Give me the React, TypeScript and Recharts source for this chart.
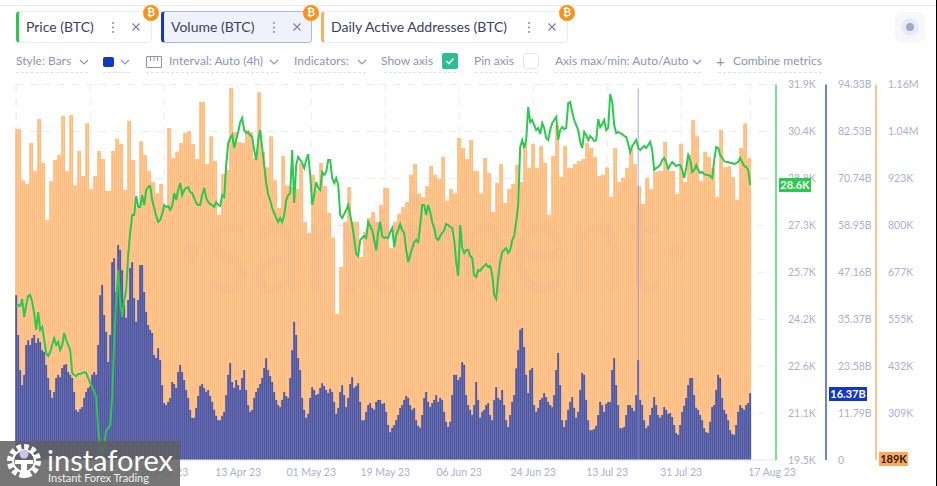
import React from "react";
import {
  ComposedChart,
  Bar,
  Line,
  XAxis,
  YAxis,
  CartesianGrid,
  ReferenceLine,
} from "recharts";

// BTC price, one reading per slot
const priceValues = [
  24552, 24618, 24585, 24816, 24222, 24618, 24915, 24948, 24717, 24354, 23793, 24387, 23793, 23892, 23462, 23033,
  22934, 23066, 23297, 23528, 23297, 23396, 23132, 23297, 23693, 23462, 23297, 23132, 22372, 22306, 22273, 22339,
  22339, 22372, 22405, 22372, 22207, 22042, 21910, 21745, 21580, 20490, 19929, 19764, 19995, 20490, 20556, 20655,
  21580, 23462, 24783, 25774, 24684, 24222, 24783, 25113, 26269, 27028, 27590, 27590, 28217, 27854, 27854, 28250,
  27920, 28415, 28514, 28547, 28085, 27821, 27557, 27359, 27425, 27623, 27920, 27854, 27887, 27755, 27887, 28316,
  28085, 28415, 28646, 28250, 28415, 28481, 28514, 28349, 28316, 28151, 27986, 27920, 27920, 28250, 28481, 28151,
  28019, 27953, 27920, 27854, 28019, 27920, 27887, 28250, 28184, 29241, 29967, 30132, 30231, 29802, 30066, 30330,
  30660, 30793, 30396, 30297, 30330, 30231, 30165, 29736, 29405, 30066, 30396, 29802, 29241, 28646, 28250, 28085,
  27821, 27656, 27491, 27359, 27491, 27359, 27590, 28085, 28250, 28316, 29736, 27986, 29241, 29505, 29405, 29307,
  29142, 29405, 29604, 28910, 27920, 28250, 28679, 28481, 28415, 29009, 28910, 29009, 29405, 29405, 28811, 28646,
  28811, 28580, 27590, 27491, 27623, 27755, 27920, 27590, 27260, 26830, 26302, 26236, 26764, 26830, 26896, 26830,
  27359, 27227, 27094, 26764, 26434, 27028, 27359, 26896, 26830, 26863, 26830, 27028, 27161, 26533, 26929, 27094,
  27293, 27094, 26995, 26434, 26038, 26269, 26500, 26698, 26764, 26698, 27260, 27920, 27920, 27590, 27920, 27689,
  27359, 27161, 26830, 26764, 26896, 26995, 27094, 27293, 27260, 27193, 27161, 26764, 26038, 25575, 27260, 26500,
  26335, 26434, 26434, 26236, 26170, 25609, 25542, 25774, 25741, 25840, 25906, 25972, 25873, 25906, 25609, 24948,
  24816, 25509, 26038, 26368, 26434, 26500, 26335, 26434, 26764, 26896, 27359, 27920, 29835, 30066, 29802, 30066,
  31156, 30660, 30727, 30562, 30396, 30462, 30264, 30627, 30462, 30132, 30066, 30396, 30627, 30727, 30826, 30066,
  30396, 30495, 30429, 30462, 31288, 31321, 30991, 30727, 30562, 30396, 30000, 29802, 30330, 30231, 30066, 30198,
  30132, 30033, 30066, 30760, 30495, 30594, 30727, 30396, 30462, 31585, 31321, 30562, 30297, 30330, 30297, 30264,
  30198, 30165, 29934, 29670, 29868, 29967, 30066, 29802, 29736, 29802, 29868, 29802, 29901, 30000, 29736, 29075,
  29142, 29175, 29241, 29405, 29472, 29340, 29109, 29241, 29340, 29274, 29208, 29241, 29241, 29075, 28811, 29142,
  29571, 29405, 29009, 29075, 29241, 29075, 28976, 29009, 28943, 28910, 28910, 28877, 28811, 29405, 29835, 29802,
  29571, 29472, 29373, 29340, 29340, 29307, 29307, 29274, 29307, 29340, 29472, 29340, 29208, 29175, 29075, 28580,
];

// volume in billions, one reading per slot
const volumeValues = [
  41.4, 31.4, 22.6, 18.8, 21.4, 28.9, 30.1, 28.9, 30.6, 31.4, 29.4, 30.6, 29.6, 27.6, 27.1, 23.9,
  20.6, 17.6, 15.6, 17.1, 20.6, 21.4, 20.8, 23.1, 23.9, 24.1, 22.1, 21.4, 20.6, 17.1, 12.6, 12.1,
  12.8, 13.3, 15.6, 17.1, 18.1, 18.6, 21.4, 22.1, 21.4, 28.9, 41.4, 44, 36.4, 32.2, 24.6, 31.4,
  49.7, 50.7, 42.2, 54, 52.8, 47.7, 38.9, 35.7, 40.2, 48.2, 49.7, 40.7, 34.7, 40.2, 49, 49,
  42.2, 37.2, 33.9, 32.7, 31.9, 26.4, 25.6, 28.1, 25.1, 18.8, 14.3, 13.8, 14.6, 15.6, 19.6, 19.1,
  18.1, 22.1, 23.9, 22.1, 20.1, 17.6, 15.6, 12.6, 10.6, 10.6, 13.1, 16.1, 18.6, 19.1, 18.1, 17.1,
  17.6, 16.1, 14.6, 12.6, 11.1, 10, 10, 11.1, 12.1, 16.3, 21.4, 24.4, 19.6, 18.1, 20.1, 18.8,
  17.6, 20.6, 22.6, 17.6, 13.8, 12.1, 12.6, 15.6, 17.1, 18.1, 19.1, 20.6, 23.1, 25.6, 22.6, 21.1,
  19.6, 17.1, 15.1, 13.8, 13.3, 15.1, 17.1, 16.1, 15.6, 20.6, 27.6, 34.7, 31.4, 25.6, 22.6, 15.6,
  12.6, 10.6, 11.6, 15.6, 18.3, 17.6, 16.3, 16.6, 18.1, 19.3, 18.6, 17.6, 16.8, 17.9, 17.1, 14.6,
  11.6, 13.1, 17.1, 18.8, 16.3, 13.3, 15.6, 19.1, 20.8, 18.1, 18.6, 19.3, 14.6, 10, 10, 12.1,
  13.8, 14.3, 13.1, 12.6, 14.6, 15.1, 15.1, 14.1, 14.3, 12.1, 8.8, 7, 8.1, 8.8, 10, 11.3,
  13.1, 13.8, 15.1, 16.1, 15.6, 13.8, 12.6, 13.1, 10, 8.6, 8.1, 11.3, 15.6, 17.1, 14.6, 13.3,
  14.3, 15.1, 16.3, 14.6, 15.6, 15.1, 12.1, 9.6, 8.3, 9.6, 16.3, 21.4, 21.4, 20.1, 20.8, 24.6,
  23.9, 16.3, 13.8, 12.6, 11.3, 13.8, 19.6, 15.1, 10.6, 12.1, 12.6, 13.8, 14.3, 11.3, 10, 15.1,
  18.3, 15.6, 15.1, 17.6, 13.8, 10, 8.3, 11.3, 14.6, 16.3, 23, 27.6, 32.7, 33.2, 28.4, 21.4,
  16.8, 22.6, 23.1, 13.8, 12.1, 13.1, 15.1, 15.6, 16.8, 15.8, 14.6, 13.8, 13.3, 16.3, 22.6, 26.9,
  18.8, 10, 8.3, 10, 12.6, 14.6, 15.8, 13.1, 10.6, 12.1, 17.6, 21.9, 21.4, 15.1, 10, 7.5,
  7.5, 7.8, 8.6, 11.3, 14.6, 13.8, 12.1, 14.1, 14.6, 14.6, 22.6, 25.6, 18.8, 13.8, 8, 8,
  8.3, 11.3, 13.8, 13.8, 13.1, 12.3, 16.3, 25.1, 15.1, 13.8, 10, 8, 8.6, 11.3, 13.1, 15.8,
  13.8, 11.3, 10.6, 11.3, 13.3, 12.6, 11.6, 11.8, 10.8, 8.8, 6.8, 6.3, 8.8, 12.1, 13.6, 15.6,
  18.8, 20.6, 20.6, 16.3, 13.1, 12.6, 11.3, 10, 8, 7, 6.8, 9.6, 13.3, 13.8, 17.6, 21.4,
  20.6, 15.6, 12.6, 11.6, 10, 7.5, 6.5, 6.3, 8.8, 12.1, 13.8, 13.1, 12.6, 13.8, 14.3, 16.8,
];

// daily active addresses in thousands, one reading per day
const daaValues = [
  1052, 918, 908, 1015, 942, 1078, 963, 814, 916, 971, 984, 1086, 942, 1088, 905, 994, 929, 1067, 895, 929,
  994, 973, 890, 994, 1026, 1013, 892, 1073, 971, 845, 1020, 984, 942, 913, 884, 908, 845, 1054, 976, 992,
  1015, 1041, 1046, 1013, 973, 1122, 960, 1033, 968, 827, 934, 945, 1159, 1044, 1018, 1015, 1049, 1044, 976, 1148,
  992, 952, 1033, 918, 845, 981, 905, 900, 895, 963, 809, 780, 932, 892, 963, 903, 832, 769, 568, 691,
  809, 900, 809, 809, 717, 783, 819, 835, 809, 853, 898, 741, 809, 830, 848, 861, 932, 960, 884, 874,
  903, 955, 932, 921, 979, 864, 895, 884, 1028, 1002, 973, 1023, 942, 884, 976, 937, 835, 911, 960, 858,
  895, 908, 958, 913, 1015, 950, 1013, 950, 1007, 963, 827, 981, 1062, 926, 1007, 950, 960, 968, 973, 1015,
  1002, 979, 929, 932, 952, 874, 1002, 913, 924, 950, 1002, 960, 903, 856, 924, 895, 939, 942, 1018, 942,
  942, 882, 1013, 913, 986, 1075, 1033, 916, 992, 979, 950, 874, 1049, 952, 955, 926, 866, 1002, 1067, 976,
];

const xTickSlots = [0, 37, 74, 111, 147.5, 184.5, 221.5, 258.5, 295.5, 332.5, 367];
const xTickLabels = ["", "08 Mar 23", "26 Mar 23", "13 Apr 23", "01 May 23", "19 May 23", "06 Jun 23", "24 Jun 23", "13 Jul 23", "31 Jul 23", "17 Aug 23"];
const priceTicks = [19500, 21050, 22600, 24150, 25700, 27250, 28800, 30350, 31900];
const volumeTicks = [0, 11.79, 23.58, 35.37, 47.16, 58.95, 70.74, 82.53, 94.33];
const daaTicks = [309, 432, 555, 677, 800, 923, 1045, 1168];
const cursorSlot = 311;

const rows = volumeValues.map((volume, i) => ({
  slot: i,
  volume,
  price: priceValues[i],
  daa: daaValues[Math.min(Math.floor((i * daaValues.length) / volumeValues.length), daaValues.length - 1)],
}));

const FONT = "Lato, sans-serif";
const MUTED = "#8C95B4";
const AXIS_TEXT = "#A9B1CE";
const GREEN = "#2CC84F";
const BLUE = "#1237C0";
const ORANGE = "#FFAD5C";

const tickStyle = { fontSize: 10.5, fill: AXIS_TEXT, fontFamily: FONT };

function XTick({ x, y, payload }: any) {
  const idx = xTickSlots.indexOf(payload.value);
  const last = idx === xTickSlots.length - 1;
  return (
    <text x={last ? x - 2 : x} y={y + 8} textAnchor={last ? "start" : "middle"} {...tickStyle}>
      {xTickLabels[idx]}
    </text>
  );
}

const fmtPrice = (v: number) => `${Math.round(v / 100) / 10}K`;
const fmtVolume = (v: number) => (v === 0 ? "0" : `${v.toFixed(2)}B`);
const fmtDaa = (v: number) => (v >= 1000 ? `${Math.floor(v / 10) / 100}M` : `${v}K`);

function Abs({ x, y, w, h, style, children }: any) {
  return (
    <div style={{ position: "absolute", left: x, top: y, width: w, height: h, ...style }}>{children}</div>
  );
}

function Label({ x, y, size = 12, color = MUTED, children }: any) {
  return (
    <Abs x={x} y={y} style={{ fontFamily: FONT, fontSize: size, color, whiteSpace: "nowrap", lineHeight: "16px" }}>
      {children}
    </Abs>
  );
}

function Chevron({ x, y }: any) {
  return (
    <Abs x={x} y={y}>
      <svg width="10" height="6" style={{ display: "block" }}>
        <path d="M1 1 L5 5 L9 1" fill="none" stroke={MUTED} strokeWidth="1.2" />
      </svg>
    </Abs>
  );
}

function Dash({ x, w }: any) {
  return <Abs x={x} y={72} w={w} h={0} style={{ borderTop: "1px dashed #DDE1EE" }} />;
}

function BtcBadge({ x, y }: any) {
  return (
    <Abs
      x={x - 8}
      y={y - 8}
      w={16}
      h={16}
      style={{
        borderRadius: 8,
        background: "#F7931A",
        color: "#fff",
        fontFamily: "DejaVu Sans, sans-serif",
        fontWeight: 700,
        fontSize: 10,
        lineHeight: "16px",
        textAlign: "center",
      }}
    >
      ₿
    </Abs>
  );
}

function Tab({ x, w, label, color, dotsX, active }: any) {
  return (
    <>
      <Abs
        x={x}
        y={11}
        w={w}
        h={32}
        style={{
          boxSizing: "border-box",
          borderRadius: 4,
          background: active ? "#EFF2FB" : "#fff",
          border: `1px solid ${active ? "#A9B8EC" : "#E9ECF5"}`,
          borderLeft: `3.5px solid ${color}`,
        }}
      />
      <Label x={x + 10} y={19} size={14} color="#3A4160">
        {label}
      </Label>
      <Abs x={dotsX} y={21}>
        <svg width="4" height="13" style={{ display: "block" }}>
          <circle cx="2" cy="2" r="1.1" fill="#8C95B4" />
          <circle cx="2" cy="6.5" r="1.1" fill="#8C95B4" />
          <circle cx="2" cy="11" r="1.1" fill="#8C95B4" />
        </svg>
      </Abs>
      <Abs x={dotsX + 20} y={22}>
        <svg width="10" height="10" style={{ display: "block" }}>
          <path d="M1.5 1.5 L8.5 8.5 M8.5 1.5 L1.5 8.5" stroke="#7B84A3" strokeWidth="1.2" />
        </svg>
      </Abs>
      <BtcBadge x={x + w - 1} y={13} />
    </>
  );
}

function ValueBadge({ x, y, w, bg, color, children }: any) {
  return (
    <Abs
      x={x}
      y={y}
      w={w}
      h={14}
      style={{
        background: bg,
        color,
        fontFamily: FONT,
        fontWeight: 700,
        fontSize: 11,
        lineHeight: "14px",
        textAlign: "center",
      }}
    >
      {children}
    </Abs>
  );
}

function Header() {
  return (
    <>
      <Abs x={0} y={5} w={936} h={1} style={{ background: "#E6E9F5" }} />
      <Abs x={936} y={0} w={1} h={486} style={{ background: "#000" }} />
      <Tab x={16} w={136} label="Price (BTC)" color={GREEN} dotsX={111} />
      <Tab x={161} w={151} label="Volume (BTC)" color={BLUE} dotsX={272} active />
      <Tab x={321} w={247} label="Daily Active Addresses (BTC)" color={ORANGE} dotsX={527} />
      <Abs x={895} y={12} w={30} h={30} style={{ background: "#F6F7FB", borderRadius: 6 }} />
      <Abs x={901} y={18} w={18} h={18} style={{ background: "#E8EAF4", borderRadius: 9 }} />
      <Abs x={906} y={23} w={8} h={8} style={{ background: "#9FA8C7", borderRadius: 4 }} />

      <Label x={16} y={53}>Style: Bars</Label>
      <Chevron x={79} y={59} />
      <Dash x={16} w={72} />
      <Abs x={103} y={57} w={11} h={10} style={{ background: BLUE, borderRadius: 2 }} />
      <Chevron x={120} y={59} />
      <Dash x={103} w={27} />
      <Abs x={146} y={56}>
        <svg width="16" height="12" style={{ display: "block" }}>
          <path d="M0.5 0.5 H15.5 V11.5 H0.5 Z M4.5 0.5 V5 M8 0.5 V5 M11.5 0.5 V5" fill="none" stroke={MUTED} strokeWidth="1" />
        </svg>
      </Abs>
      <Label x={169} y={53}>Interval: Auto (4h)</Label>
      <Chevron x={269} y={59} />
      <Dash x={146} w={133} />
      <Label x={294} y={53}>Indicators:</Label>
      <Chevron x={357} y={59} />
      <Dash x={294} w={72} />
      <Label x={381} y={53}>Show axis</Label>
      <Dash x={384} w={72} />
      <Abs x={442} y={53} w={16} h={16} style={{ background: "#2BBE90", borderRadius: 2 }}>
        <svg width="16" height="16" style={{ display: "block" }}>
          <path d="M4.5 8 L7 10.5 L11.5 5.5" fill="none" stroke="#fff" strokeWidth="1.6" />
        </svg>
      </Abs>
      <Label x={474} y={53}>Pin axis</Label>
      <Dash x={475} w={62} />
      <Abs x={523} y={53} w={16} h={16} style={{ boxSizing: "border-box", border: "1px solid #E3E6F0", borderRadius: 3, background: "#fff" }} />
      <Label x={555} y={53}>Axis max/min: Auto/Auto</Label>
      <Chevron x={692} y={59} />
      <Dash x={555} w={146} />
      <Label x={716} y={53} size={15}>+</Label>
      <Label x={733} y={53}>Combine metrics</Label>
      <Dash x={718} w={104} />
    </>
  );
}

function InstaforexBanner() {
  return (
    <Abs x={0} y={441} w={180} h={45} style={{ background: "rgba(96,96,96,0.86)" }}>
      <svg width="44" height="45" style={{ position: "absolute", left: 2, top: 0 }}>
        <circle cx="22" cy="20" r="14" fill="none" stroke="#fff" strokeWidth="6" strokeDasharray="4.5 2.8" />
        <circle cx="22" cy="20" r="11" fill="none" stroke="#fff" strokeWidth="2" />
        <circle cx="22" cy="13" r="4.5" fill="#C9C6EA" />
        <path d="M13 19 H31 V23 H25 V37 H19 V23 H13 Z" fill="#fff" />
      </svg>
      <Abs x={47} y={4} style={{ fontFamily: FONT, fontWeight: 400, fontSize: 29, lineHeight: "30px", color: "#fff", whiteSpace: "nowrap" }}>
        instaforex
      </Abs>
      <Abs x={48} y={29} style={{ fontFamily: FONT, fontSize: 11, lineHeight: "15px", color: "#F0F0F0", whiteSpace: "nowrap" }}>
        Instant Forex Trading
      </Abs>
    </Abs>
  );
}

export default function App() {
  return (
    <div style={{ position: "absolute", left: 0, top: 0, width: 937, height: 486, overflow: "hidden", background: "#fff" }}>
      <Header />
      <div style={{ position: "absolute", left: 0, top: 0 }}>
        <ComposedChart
          width={937}
          height={486}
          data={rows}
          margin={{ top: 84.5, right: 11, bottom: 0, left: 16 }}
          barGap={0}
        >
          <CartesianGrid stroke="#E8EBF5" strokeDasharray="7 7" yAxisId="aPrice" />
          <XAxis
            dataKey="slot"
            type="number"
            domain={[-0.1, 379.9]}
            ticks={xTickSlots}
            interval={0}
            height={26}
            tick={<XTick />}
            tickLine={false}
            axisLine={{ stroke: "#E3E6F2" }}
          />
          <XAxis xAxisId="volumeX" dataKey="slot" type="number" domain={[-0.1, 379.9]} hide />
          <YAxis
            yAxisId="aPrice"
            orientation="right"
            width={50}
            domain={[19500, 31900]}
            ticks={priceTicks}
            interval={0}
            tickFormatter={fmtPrice}
            tick={tickStyle}
            tickLine={false}
            tickMargin={6}
            axisLine={{ stroke: "#7FDB92", strokeWidth: 2 }}
          />
          <YAxis
            yAxisId="bVolume"
            orientation="right"
            width={50}
            domain={[0, 94.33]}
            ticks={volumeTicks}
            interval={0}
            tickFormatter={fmtVolume}
            tick={tickStyle}
            tickLine={false}
            tickMargin={6}
            axisLine={{ stroke: "#6F84D8", strokeWidth: 2 }}
          />
          <YAxis
            yAxisId="cDaa"
            orientation="right"
            width={50}
            domain={[186.6, 1168]}
            ticks={daaTicks}
            interval={0}
            tickFormatter={fmtDaa}
            tick={tickStyle}
            tickLine={false}
            tickMargin={6}
            axisLine={{ stroke: "#FFC48C", strokeWidth: 2 }}
          />
          <Bar dataKey="daa" yAxisId="cDaa" fill="#FFBC7C" barSize={1.8} isAnimationActive={false} />
          <Bar dataKey="volume" xAxisId="volumeX" yAxisId="bVolume" fill="#4B58AA" barSize={1.95} isAnimationActive={false} />
          <ReferenceLine
            yAxisId="aPrice"
            segment={[
              { x: cursorSlot, y: 31760 },
              { x: cursorSlot, y: 19500 },
            ]}
            stroke="#7487D8"
            strokeOpacity={0.7}
            strokeWidth={1}
          />
          <Line dataKey="price" yAxisId="aPrice" stroke={GREEN} strokeWidth={2} dot={false} isAnimationActive={false} />
        </ComposedChart>
      </div>
      {/* faint watermark sits across the plot */}
      <svg width={937} height={486} style={{ position: "absolute", left: 0, top: 0, pointerEvents: "none" }}>
        <text
          transform="translate(178 293) scale(1 1.3)"
          fontFamily={FONT}
          fontSize={104}
          textLength={512}
          lengthAdjust="spacing"
          fill="rgba(120,130,165,0.06)"
        >
          ·santiment·
        </text>
      </svg>
      <ValueBadge x={779} y={178} w={32} bg="#2CC84F" color="#fff">28.6K</ValueBadge>
      <ValueBadge x={829} y={387} w={38} bg={BLUE} color="#fff">16.37B</ValueBadge>
      <ValueBadge x={879} y={452} w={29} bg="#FFA857" color="#1B1B1B">189K</ValueBadge>
      <InstaforexBanner />
    </div>
  );
}
